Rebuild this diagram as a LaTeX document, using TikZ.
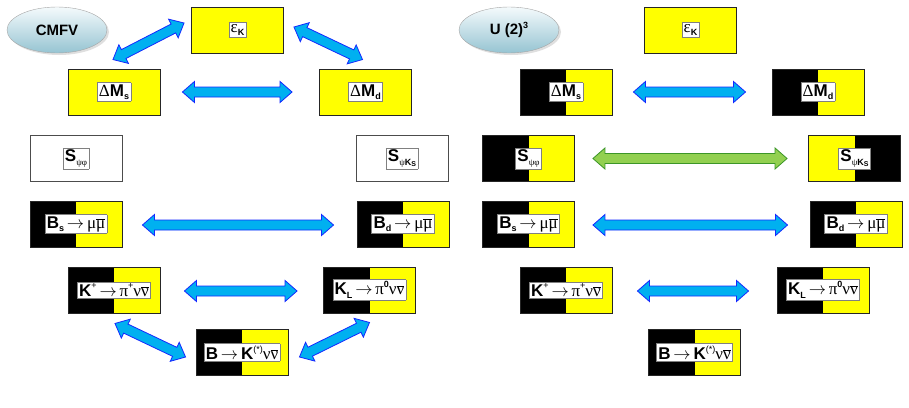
\documentclass[tikz,border=0pt]{standalone}
\usepackage{fontspec}
\setmainfont{Liberation Sans}
\newfontfamily\grk{Liberation Serif}
\usetikzlibrary{calc,shapes.geometric,shadows}

\definecolor{boxyellow}{RGB}{255,255,0}
\definecolor{arrcyan}{RGB}{0,176,240}
\definecolor{arrblue}{RGB}{20,40,255}
\definecolor{arrgreen}{RGB}{146,208,80}
\definecolor{arrgreenline}{RGB}{60,150,40}
\definecolor{ovaltop}{RGB}{244,250,252}
\definecolor{ovalbot}{RGB}{150,196,210}

\setlength{\fboxsep}{1.5pt}
\setlength{\fboxrule}{0.6pt}
\newcommand{\lowidx}[1]{\raisebox{-0.4ex}{\fontsize{9}{9}\selectfont #1}}
\newcommand{\upidx}[1]{\raisebox{0.8ex}{\fontsize{9}{9}\selectfont #1}}
\newcommand{\anti}[1]{$\overline{\hbox{\grk #1}}$}
\newcommand{\decays}{\,$\rightarrow$\,}
\newcommand{\obs}[1]{\fcolorbox{gray}{white}{#1}}

% fat double headed arrow between two named coordinates
\newcommand{\fatarrow}[3][]{%
  \coordinate (fa1) at ($(#2)!12pt!(#3)$);
  \coordinate (fa2) at ($(#3)!12pt!(#2)$);
  \filldraw[blockarrow,#1] (#2) -- ($(fa1)!10.5pt!90:(#3)$) -- ($(fa1)!5pt!90:(#3)$)
    -- ($(fa2)!5pt!-90:(#2)$) -- ($(fa2)!10.5pt!-90:(#2)$) -- (#3)
    -- ($(fa2)!10.5pt!90:(#2)$) -- ($(fa2)!5pt!90:(#2)$)
    -- ($(fa1)!5pt!-90:(#3)$) -- ($(fa1)!10.5pt!-90:(#3)$) -- cycle;}

\tikzset{
  obsbox/.style={draw=black!85, line width=0.9pt, minimum width=92pt, minimum height=46pt,
    inner sep=0pt, font=\fontsize{17}{20}\selectfont},
  yellowbox/.style={obsbox, fill=boxyellow},
  blankbox/.style={obsbox, fill=white, draw=black!70},
  halfbox/.style={obsbox, fill=boxyellow, path picture={\fill[black]
    (path picture bounding box.south west) rectangle (path picture bounding box.north);}},
  flipbox/.style={obsbox, fill=boxyellow, path picture={\fill[black]
    (path picture bounding box.north) rectangle (path picture bounding box.south east);}},
  oval/.style={ellipse, draw=gray!70, top color=ovaltop, bottom color=ovalbot,
    minimum width=100pt, minimum height=46pt, inner sep=0pt,
    drop shadow={opacity=0.25, shadow xshift=2pt, shadow yshift=-2pt},
    font=\fontsize{15}{18}\selectfont\bfseries},
  blockarrow/.style={fill=arrcyan, draw=arrblue, line width=0.8pt, line join=miter},
  greenarrow/.style={fill=arrgreen, draw=arrgreenline}
}

\begin{document}
\begin{tikzpicture}[x=1pt, y=1pt]
  \useasboundingbox (0,0) rectangle (909,-407);

  % CMFV panel
  \node[oval] (cmfv) at (57,-30) {CMFV};
  \node[yellowbox] (ekL) at (237.5,-30) {\obs{{\grk ε}\lowidx{\bfseries K}}};
  \node[yellowbox] (msL) at (114,-92) {\obs{{\grk Δ}\textbf{M}\lowidx{\bfseries s}}};
  \node[yellowbox] (mdL) at (365.5,-92) {\obs{{\grk Δ}\textbf{M}\lowidx{\bfseries d}}};
  \node[blankbox] (spL) at (76,-158.5) {\obs{\textbf{S}\lowidx{\grk ψφ}}};
  \node[blankbox] (skL) at (402,-158.5) {\obs{\textbf{S}\lowidx{{\grk ψ}\bfseries K\raisebox{-0.3ex}{\fontsize{7}{7}\selectfont S}}}};
  \node[halfbox] (bsL) at (76,-224) {\obs{\textbf{B}\lowidx{\bfseries s}\decays{\grk μ}\anti{μ}}};
  \node[halfbox] (bdL) at (403,-224) {\obs{\textbf{B}\lowidx{\bfseries d}\decays{\grk μ}\anti{μ}}};
  \node[halfbox] (kpL) at (114,-290) {\obs{\textbf{K}\upidx{+}\decays{\grk π}\upidx{+}{\grk ν}\anti{ν}}};
  \node[halfbox] (klL) at (369.5,-290) {\obs{\textbf{K}\lowidx{\bfseries L}\decays{\grk π}\upidx{\bfseries 0}{\grk ν}\anti{ν}}};
  \node[halfbox] (bkL) at (242,-352.5) {\obs{\textbf{B}\decays\textbf{K}\upidx{(*)}{\grk ν}\anti{ν}}};

  % U(2)^3 panel
  \node[oval] (u2) at (509,-30) {U (2)\upidx{\bfseries 3}};
  \node[yellowbox] (ekR) at (690.5,-30) {\obs{{\grk ε}\lowidx{\bfseries K}}};
  \node[halfbox] (msR) at (566,-92) {\obs{{\grk Δ}\textbf{M}\lowidx{\bfseries s}}};
  \node[halfbox] (mdR) at (818,-92) {\obs{{\grk Δ}\textbf{M}\lowidx{\bfseries d}}};
  \node[halfbox] (spR) at (528.5,-158.5) {\obs{\textbf{S}\lowidx{\grk ψφ}}};
  \node[flipbox] (skR) at (854.5,-158.5) {\obs{\textbf{S}\lowidx{{\grk ψ}\bfseries K\raisebox{-0.3ex}{\fontsize{7}{7}\selectfont S}}}};
  \node[halfbox] (bsR) at (528.5,-224) {\obs{\textbf{B}\lowidx{\bfseries s}\decays{\grk μ}\anti{μ}}};
  \node[halfbox] (bdR) at (856,-224) {\obs{\textbf{B}\lowidx{\bfseries d}\decays{\grk μ}\anti{μ}}};
  \node[halfbox] (kpR) at (566,-290) {\obs{\textbf{K}\upidx{+}\decays{\grk π}\upidx{+}{\grk ν}\anti{ν}}};
  \node[halfbox] (klR) at (823,-290) {\obs{\textbf{K}\lowidx{\bfseries L}\decays{\grk π}\upidx{\bfseries 0}{\grk ν}\anti{ν}}};
  \node[halfbox] (bkR) at (694.5,-352.5) {\obs{\textbf{B}\decays\textbf{K}\upidx{(*)}{\grk ν}\anti{ν}}};

  % arrow ends
  \coordinate (d1a) at ($(msL.north)+(-1,9)$);
  \coordinate (d1b) at ($(ekL.west)+(-7,7)$);
  \coordinate (d2a) at ($(ekL.east)+(10,3)$);
  \coordinate (d2b) at ($(mdL.north)+(-3,9)$);
  \coordinate (d3a) at ($(kpL.south)+(1,-10)$);
  \coordinate (d3b) at ($(bkL.west)+(-10,-4.5)$);
  \coordinate (d4a) at ($(bkL.east)+(11,-4.5)$);
  \coordinate (d4b) at ($(klL.south)+(0,-9)$);
  \coordinate (h1a) at ($(msL.east)+(22,0)$);
  \coordinate (h1b) at ($(mdL.west)+(-27,0)$);
  \coordinate (h2a) at ($(bsL.east)+(20,-1)$);
  \coordinate (h2b) at ($(bdL.west)+(-23,-1)$);
  \coordinate (h3a) at ($(kpL.east)+(24,-1)$);
  \coordinate (h3b) at ($(klL.west)+(-26,-1)$);
  \coordinate (r1a) at ($(msR.east)+(21,0)$);
  \coordinate (r1b) at ($(mdR.west)+(-26,0)$);
  \coordinate (r2a) at ($(spR.east)+(18,0)$);
  \coordinate (r2b) at ($(skR.west)+(-21,0)$);
  \coordinate (r3a) at ($(bsR.east)+(18,-1)$);
  \coordinate (r3b) at ($(bdR.west)+(-22,-1)$);
  \coordinate (r4a) at ($(kpR.east)+(25,-1)$);
  \coordinate (r4b) at ($(klR.west)+(-28,-1)$);

  \fatarrow{d1a}{d1b}
  \fatarrow{d2a}{d2b}
  \fatarrow{d3a}{d3b}
  \fatarrow{d4a}{d4b}
  \fatarrow{h1a}{h1b}
  \fatarrow{h2a}{h2b}
  \fatarrow{h3a}{h3b}
  \fatarrow{r1a}{r1b}
  \fatarrow[greenarrow]{r2a}{r2b}
  \fatarrow{r3a}{r3b}
  \fatarrow{r4a}{r4b}
\end{tikzpicture}
\end{document}
